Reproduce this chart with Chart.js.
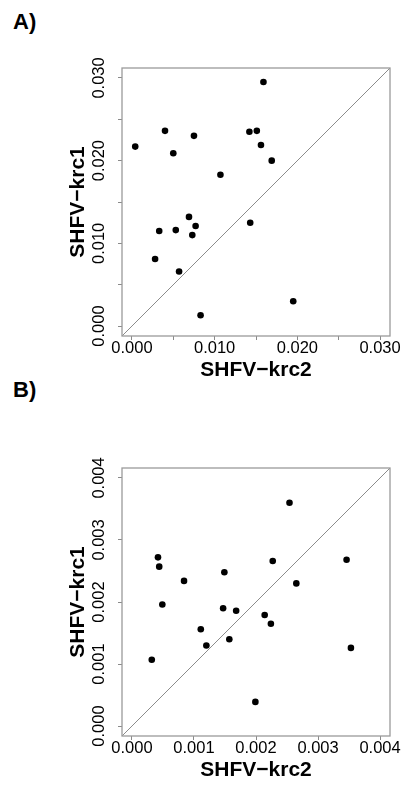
<!DOCTYPE html>
<html>
<head>
<meta charset="utf-8">
<script src="https://cdn.jsdelivr.net/npm/chart.js@4/dist/chart.umd.min.js"></script>
<style>
  html, body { margin: 0; padding: 0; background: #fff; }
  #wrap { position: relative; width: 403px; height: 785px; overflow: hidden; background: #fff; }
  .panel { position: absolute; left: 0; width: 403px; height: 400px; }
  .tag { position: absolute; left: 13px; font: bold 22px "Liberation Sans", Arial, sans-serif; line-height: 1; color: #000; }
</style>
</head>
<body>
<div id="wrap">
  <div class="tag" style="top:11px">A)</div>
  <div class="tag" style="top:379px">B)</div>
  <div class="panel" style="top:0"><canvas id="cA" width="403" height="400"></canvas></div>
  <div class="panel" style="top:400px"><canvas id="cB" width="403" height="400"></canvas></div>
</div>
<script>
// ---- Panel A data ----
const aKrc2 = [0.0159, 0.0040, 0.0004, 0.0050, 0.0075, 0.0107, 0.0142, 0.0151, 0.0156, 0.0169,
               0.0069, 0.0077, 0.0033, 0.0053, 0.0073, 0.0143, 0.0028, 0.0057, 0.0195, 0.0083];
const aKrc1 = [0.0295, 0.0236, 0.0217, 0.0209, 0.0230, 0.0183, 0.0235, 0.0236, 0.0219, 0.0200,
               0.0132, 0.0121, 0.0115, 0.0116, 0.0110, 0.0125, 0.0081, 0.0066, 0.0030, 0.0013];
const aTicks = [0, 0.005, 0.010, 0.015, 0.020, 0.025, 0.030];
const aLabeled = [0, 0.010, 0.020, 0.030];
const aRange = [-0.0012, 0.0312];

// ---- Panel B data ----
const bKrc2 = [0.00254, 0.00042, 0.00044, 0.00227, 0.00346, 0.00149, 0.00084, 0.00265, 0.00049, 0.00147,
               0.00168, 0.00214, 0.00224, 0.00111, 0.00157, 0.00120, 0.00353, 0.00032, 0.00199];
const bKrc1 = [0.00360, 0.00272, 0.00257, 0.00266, 0.00268, 0.00248, 0.00234, 0.00230, 0.00196, 0.00190,
               0.00186, 0.00179, 0.00165, 0.00156, 0.00140, 0.00130, 0.00126, 0.00107, 0.00039];
const bTicks = [0, 0.001, 0.002, 0.003, 0.004];
const bLabeled = [0, 0.001, 0.002, 0.003, 0.004];
const bRange = [-0.00016, 0.00416];

const xTitle = 'SHFV\u2212krc2';
const yTitle = 'SHFV\u2212krc1';

const FONT = '"Liberation Sans", Arial, Helvetica, sans-serif';

const framePlugin = {
  id: 'frame',
  afterDatasetsDraw(chart) {
    const {ctx, chartArea: a} = chart;
    ctx.save();
    ctx.strokeStyle = '#9a9a9a';
    ctx.lineWidth = 1.3;
    ctx.strokeRect(a.left, a.top, a.right - a.left, a.bottom - a.top);
    ctx.restore();
  }
};

function near(v, list) { return list.some(l => Math.abs(l - v) < 1e-9); }

function makeChart(id, xs, ys, ticks, labeled, range) {
  const pts = xs.map((x, i) => ({x: x, y: ys[i]}));
  const axisCommon = (isX) => ({
    type: 'linear',
    min: range[0],
    max: range[1],
    afterBuildTicks: s => { s.ticks = ticks.map(v => ({value: v})); },
    afterFit: s => { if (isX) s.height = 50; else s.width = 122; },
    border: { display: false },
    grid: { drawOnChartArea: false, drawTicks: true, tickLength: 4, color: '#8a8a8a', lineWidth: 1 },
    ticks: {
      autoSkip: false,
      minRotation: isX ? 0 : 90,
      maxRotation: isX ? 0 : 90,
      crossAlign: isX ? 'near' : 'center',
      padding: isX ? 0 : -2,
      color: '#000',
      font: { family: FONT, size: 16.5, lineHeight: 1 },
      callback: v => near(v, labeled) ? v.toFixed(3) : ''
    },
    title: {
      display: true,
      text: isX ? xTitle : yTitle,
      color: '#000',
      font: { family: FONT, size: 21, weight: 'bold', lineHeight: 1 },
      padding: isX ? { top: 0, bottom: 5.5 } : { top: 67.5, bottom: 0 }
    }
  });
  return new Chart(document.getElementById(id), {
    type: 'scatter',
    data: {
      datasets: [
        {
          type: 'line',
          data: [{x: range[0], y: range[0]}, {x: range[1], y: range[1]}],
          borderColor: '#8c8c8c',
          borderWidth: 1,
          pointRadius: 0,
          fill: false
        },
        {
          data: pts,
          pointRadius: 3.3,
          pointBorderWidth: 0,
          backgroundColor: '#000',
          borderColor: '#000'
        }
      ]
    },
    options: {
      responsive: false,
      animation: false,
      events: [],
      layout: { padding: { left: 0, right: 13, top: 68, bottom: 14 } },
      plugins: { legend: { display: false }, tooltip: { enabled: false } },
      scales: { x: axisCommon(true), y: axisCommon(false) }
    },
    plugins: [framePlugin]
  });
}

makeChart('cA', aKrc2, aKrc1, aTicks, aLabeled, aRange);
makeChart('cB', bKrc2, bKrc1, bTicks, bLabeled, bRange);
</script>
</body>
</html>
